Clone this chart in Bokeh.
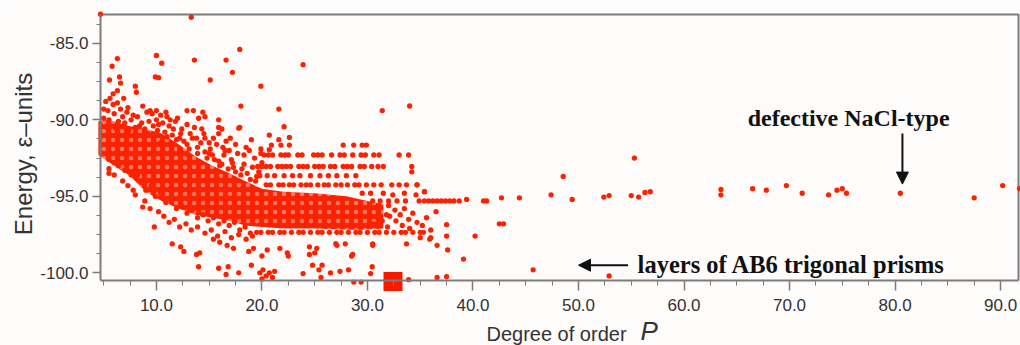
from math import pi
from bokeh.plotting import figure
from bokeh.models import (Range1d, SingleIntervalTicker, PrintfTickFormatter,
                          Label, Arrow, NormalHead)
from bokeh.embed import file_html
from bokeh.resources import INLINE

# ---------------- data ----------------
# isolated high-energy structures
outlier_x = [4.7, 13.3, 5.8, 6.3, 5.55, 6.5, 6.6, 6.3, 8.0, 8.1, 10.0, 10.5, 9.9, 10.2,
             13.6, 15.1, 16.6, 17.2, 17.9, 18.0, 17.8, 19.9, 21.6, 22.1, 23.9, 31.4, 34.0]
outlier_y = [-83.1, -83.3, -86.5, -86.0, -87.4, -87.2, -87.6, -88.1, -87.8, -88.2, -85.8,
             -86.3, -87.2, -87.25, -86.1, -87.4, -86.1, -86.9, -85.4, -89.1, -90.55, -87.8,
             -89.3, -90.45, -86.4, -89.4, -89.1]

# upper part of the main cloud (low P)
upper_x = [5.2, 5.6, 5.9, 6.3, 6.6, 5.4, 6.0, 6.8, 7.2, 5.0, 5.5, 6.4, 7.0, 7.6, 8.2, 8.6,
           9.1, 9.6, 10.0, 10.4, 11.0, 9.3, 10.2, 11.2, 11.8, 12.4, 12.9, 13.5, 14.4, 14.6,
           13.2, 13.8, 14.3, 15.0, 15.4, 15.9, 15.9, 15.9, 16.3, 16.9, 17.5, 17.9, 18.3,
           18.8, 19.3, 19.9, 17.1, 16.2, 15.3, 14.6, 13.9, 12.9, 12.2, 11.5, 10.8, 8.9, 8.0,
           7.4, 6.2, 5.3, 19.9, 20.7, 20.7, 21.6, 22.6]
upper_y = [-88.8, -88.6, -89.0, -88.9, -89.3, -89.4, -89.6, -89.8, -89.5, -89.9, -90.0,
           -90.1, -90.2, -90.0, -89.8, -90.2, -89.5, -89.6, -89.4, -89.7, -89.8, -90.1,
           -90.3, -90.4, -90.1, -90.6, -89.4, -89.4, -89.5, -89.8, -90.9, -91.2, -90.6,
           -91.5, -91.2, -90.0, -90.5, -90.9, -91.8, -92.0, -91.6, -90.5, -92.3, -92.0,
           -92.5, -92.2, -92.6, -92.9, -92.3, -92.1, -91.8, -91.6, -91.2, -91.0, -90.8,
           -90.6, -90.5, -90.7, -90.6, -90.5, -91.9, -91.95, -91.0, -91.3, -91.15]

# more structures between the dense band and the upper scatter (P = 5..20)
upper2_x = [9.2, 9.7, 10.1, 10.6, 10.9, 11.3, 11.6, 11.9, 12.3, 12.6, 12.9, 13.1, 13.4,
            13.6, 13.9, 14.2, 14.5, 14.8, 15.1, 15.5, 15.7, 16.0, 16.4, 16.6, 16.8, 17.2,
            17.5, 17.7, 18.0, 18.3, 18.6, 18.9, 19.1, 19.4, 19.7, 20.0, 12.0, 14.0, 16.2,
            17.0, 18.5, 19.0, 10.0, 8.4, 7.8, 7.3, 6.9, 5.9, 5.0, 8.7, 9.4, 11.0, 12.2,
            13.0, 14.1, 15.0, 15.9, 17.3, 18.1, 19.5, 10.4, 11.6, 14.6, 16.5]
upper2_y = [-90.9, -90.4, -90.7, -90.2, -89.5, -90.0, -90.6, -91.3, -90.9, -91.4, -90.3,
            -91.9, -91.2, -90.5, -92.2, -91.5, -90.9, -92.5, -91.9, -92.6, -91.6, -93.0,
            -92.3, -91.4, -93.2, -92.8, -93.4, -92.2, -93.6, -92.9, -93.5, -93.9, -93.1,
            -94.0, -93.4, -92.8, -89.9, -89.9, -90.6, -91.2, -91.8, -91.3, -90.0, -90.4,
            -89.7, -89.2, -88.6, -88.3, -89.3, -89.1, -89.4, -91.1, -91.9, -92.3, -92.8,
            -92.2, -92.7, -93.1, -93.2, -93.7, -91.5, -91.6, -91.2, -92.0]

# lower edge of the main cloud
edge_x = [5.0, 5.5, 6.0, 6.4, 7.0, 7.6, 8.2, 8.6, 9.0, 9.5, 9.9, 10.4, 10.9, 11.4, 11.9,
          12.4, 12.9, 13.4, 13.9, 14.4, 14.9, 15.4, 15.9, 16.4, 16.9, 17.4, 17.9, 18.4,
          18.9, 5.5, 5.5, 7.8, 8.7, 9.8, 6.0, 6.8, 7.3, 8.0, 8.9, 9.4, 10.2, 10.7, 11.2,
          11.7, 12.2, 12.8, 13.3, 13.9, 14.6, 15.2, 15.8, 16.5, 17.1, 17.8, 18.5, 19.1]
edge_y = [-92.2, -92.6, -92.8, -93.0, -93.3, -93.6, -93.6, -94.1, -94.6, -94.3, -95.0,
          -94.8, -95.4, -95.2, -95.8, -95.6, -96.1, -95.9, -96.4, -96.2, -96.6, -96.4,
          -96.8, -96.6, -96.9, -96.7, -97.2, -97.0, -97.4, -93.2, -93.5, -94.6, -95.7,
          -97.0, -93.6, -94.0, -94.3, -94.9, -95.3, -95.8, -96.0, -96.3, -96.7, -96.5,
          -97.0, -96.8, -97.2, -97.0, -97.4, -97.2, -97.6, -97.3, -97.7, -97.5, -97.8,
          -97.6]

# dense core of the cloud (outline of the solid region)
core_x = [4.5, 5.5, 7.4, 9.0, 10.5, 12.1, 13.7, 15.3, 16.9, 18.4, 20.0, 22.0, 25.0, 28.0,
          30.0, 31.5, 31.5, 29.0, 25.0, 22.0, 20.0, 18.4, 16.9, 15.3, 13.7, 12.1, 10.5,
          9.0, 7.4, 5.8, 4.5]
core_y = [-90.1, -90.0, -90.4, -90.6, -90.9, -91.6, -92.4, -93.0, -93.5, -94.0, -94.5,
          -94.7, -94.8, -95.0, -95.3, -95.5, -97.1, -97.2, -97.1, -97.1, -97.0, -96.9,
          -96.6, -96.4, -96.2, -95.8, -95.3, -94.7, -93.6, -92.9, -92.3]

# discrete energy levels populated by many structures
stripe_levels = [-91.65, -92.3, -93.05, -93.65, -94.25, -95.3, -97.35]
stripe_x = [
    [20.9, 21.8, 22.6, 27.7, 28.7, 29.5, 29.9],
    [20.2, 20.6, 21.0, 21.8, 22.2, 22.5, 23.4, 23.8, 24.9, 25.3, 25.7, 26.6, 27.4, 27.8,
     28.6, 29.4, 29.8, 30.6, 31.1, 33.0, 33.9],
    [19.6, 20.0, 20.4, 20.8, 21.5, 21.9, 22.3, 22.7, 23.5, 23.9, 24.3, 25.0, 25.4, 25.8,
     26.5, 26.9, 27.7, 28.1, 28.5, 29.3, 29.7, 30.4, 31.0, 31.5, 34.2],
    [19.8, 20.5, 21.2, 22.1, 22.9, 23.6, 24.6, 25.5, 26.3, 27.1, 28.0, 28.9],
    [20.4, 20.8, 21.6, 22.0, 22.6, 23.0, 23.7, 24.2, 24.6, 25.3, 25.9, 26.3, 27.0, 27.5,
     28.1, 28.8, 29.2, 29.9, 30.6, 31.3, 32.3, 33.0, 33.7, 34.7],
    [30.5, 31.2, 32.0, 32.8, 33.6, 34.9, 35.4, 35.8, 36.2, 36.6, 37.0, 37.4, 37.8, 38.2,
     38.7],
    [19.5, 19.9, 20.6, 21.0, 21.7, 22.1, 22.8, 23.5, 23.9, 24.6, 25.3, 25.7, 26.4, 27.1,
     27.5, 28.2, 28.9, 29.3, 30.0, 30.7, 31.1, 31.8, 32.5, 33.2, 33.6, 34.3, 35.0, 35.3],
]

# scattered structures around P = 29..37
mid_x = [32.0, 32.6, 33.1, 33.5, 33.9, 34.3, 34.7, 33.3, 32.7, 32.1, 31.9, 34.0, 35.2,
         35.6, 36.0, 31.5, 32.4, 33.5, 34.6, 35.4, 29.5, 30.3, 31.0, 31.8, 30.6, 31.4]
mid_y = [-95.6, -95.9, -96.2, -95.8, -96.5, -96.1, -96.7, -96.9, -96.6, -96.3, -97.0,
         -97.1, -96.9, -96.4, -97.2, -94.8, -94.9, -94.8, -94.9, -94.7, -94.8, -94.8,
         -95.9, -96.2, -96.8, -96.6]

# low-energy structures
low_x = [11.5, 12.3, 12.6, 13.8, 14.0, 14.1, 15.4, 16.0, 16.7, 17.3, 15.9, 16.8, 17.8,
         16.6, 18.75, 19.2, 19.0, 19.8, 20.1, 20.4, 20.7, 21.0, 21.2, 20.0, 20.0, 20.5,
         21.7, 22.4, 22.5, 23.9, 24.5, 24.5, 25.0, 24.8, 25.2, 25.4, 25.6, 25.7, 26.5,
         27.0, 27.4, 28.2, 28.5, 28.6, 28.7, 29.4, 30.3, 30.45, 30.5, 33.7, 27.9, 27.1,
         30.5]
low_y = [-98.1, -98.3, -98.6, -98.8, -99.6, -98.7, -97.8, -98.0, -98.2, -98.4, -99.7,
         -99.6, -100.0, -100.1, -98.6, -98.4, -99.5, -100.0, -99.8, -100.2, -100.0,
         -100.3, -99.9, -100.4, -98.9, -98.5, -98.4, -98.7, -98.9, -100.05, -98.3, -98.8,
         -98.7, -99.5, -98.4, -99.8, -100.3, -99.5, -100.0, -98.1, -99.9, -99.8, -98.9,
         -98.8, -100.6, -100.6, -100.05, -99.6, -98.1, -98.1, -98.1, -98.2, -98.2]

# high-P tail
tail_x = [35.4, 34.7, 34.2, 39.4, 41.0, 41.3, 42.7, 44.4, 47.4, 48.55, 49.4, 52.4, 52.9,
          55.0, 55.7, 56.3, 56.8, 55.3, 63.5, 63.5, 66.5, 67.8, 69.7, 71.2, 73.7, 74.5,
          75.0, 75.4, 80.5, 87.5, 90.2, 91.8, 36.5, 37.5, 37.5, 37.6, 36.0, 36.6, 35.0,
          35.9, 40.2, 42.5, 42.9, 39.1, 45.7, 52.9, 33.9, 36.6, 37.5]
tail_y = [-94.7, -94.25, -93.4, -95.2, -95.3, -95.3, -95.1, -95.1, -94.9, -93.7, -95.2,
          -95.05, -94.95, -94.95, -95.05, -94.75, -94.7, -92.5, -94.55, -94.9, -94.5,
          -94.6, -94.3, -94.8, -94.9, -94.6, -94.5, -94.8, -94.8, -95.1, -94.3, -94.5,
          -96.0, -96.85, -97.6, -98.5, -97.7, -98.2, -97.7, -97.8, -97.6, -96.8, -96.8,
          -99.1, -99.8, -100.2, -100.45, -100.3, -100.25]

# highlighted structure (layers of AB6 trigonal prisms)
special_x = [32.42]
special_y = [-100.565]

# axis extents and tick labels
X0, X1 = 4.7, 91.7
Y0, Y1 = -100.5, -83.12
x_tick_interval, y_tick_interval = 10, 5

# ---------------- figure ----------------
W, H = 1020, 345
FL, FR, FT, FB = 100, 1018, 14, 280          # frame edges in pixels
sx_px = (FR - FL) / (X1 - X0)
sy_px = (FB - FT) / (Y1 - Y0)
x_lo = X0 - FL / sx_px
x_hi = X1 + (W - FR) / sx_px
y_hi = Y1 + FT / sy_px
y_lo = Y0 - (H - FB) / sy_px


def px_x(px):
    return X0 + (px - FL) / sx_px


def px_y(py):
    return Y1 - (py - FT) / sy_px


RED = "#fa2200"
BG = "#fefbfb"
GREY = "#7c7c7c"
TXT = "#333333"

p = figure(width=W, height=H, x_range=Range1d(x_lo, x_hi), y_range=Range1d(y_lo, y_hi),
           output_backend="svg", toolbar_location=None, min_border=0,
           min_border_left=0, min_border_right=0, min_border_top=0, min_border_bottom=0,
           background_fill_color=BG, border_fill_color=BG)
p.grid.visible = False
p.outline_line_color = None

# top and right border of the plot box
p.line([X0, X1, X1], [Y1, Y1, Y0], line_color=GREY, line_width=2)

p.patch(core_x, core_y, fill_color=RED, line_color=None,
        hatch_pattern="dot", hatch_color=BG, hatch_alpha=0.4, hatch_scale=9,
        hatch_weight=1.5)

sx = [x for xs in stripe_x for x in xs]
sy = [lvl for lvl, xs in zip(stripe_levels, stripe_x) for _ in xs]
for xs, ys in [(outlier_x, outlier_y), (upper_x, upper_y), (upper2_x, upper2_y),
               (edge_x, edge_y), (sx, sy), (mid_x, mid_y), (low_x, low_y),
               (tail_x, tail_y)]:
    p.scatter(xs, ys, marker="circle", size=5.3, fill_color=RED, line_color=None)

p.scatter(special_x, special_y, marker="square", size=19, fill_color="#f51a00",
          line_color=None)

# axes (fixed on the plot box edges)
xa = p.xaxis[0]
xa.fixed_location = Y0
xa.bounds = (X0, X1)
xa.ticker = SingleIntervalTicker(interval=x_tick_interval, num_minor_ticks=4)
xa.formatter = PrintfTickFormatter(format="%.1f")
ya = p.yaxis[0]
ya.fixed_location = X0
ya.bounds = (Y0, Y1)
ya.ticker = SingleIntervalTicker(interval=y_tick_interval, num_minor_ticks=4)
ya.formatter = PrintfTickFormatter(format="%.1f")
for ax in (xa, ya):
    ax.axis_line_color = GREY
    ax.axis_line_width = 2
    ax.major_tick_line_color = GREY
    ax.minor_tick_line_color = GREY
    ax.major_tick_line_width = 1.5
    ax.major_tick_in = 0
    ax.minor_tick_in = 0
    ax.major_label_text_font = "Liberation Sans"
    ax.major_label_text_font_size = "17px"
    ax.major_label_text_color = TXT
xa.major_tick_out = 10
xa.minor_tick_out = 5
xa.major_label_standoff = 8
ya.major_tick_out = 8
ya.minor_tick_out = 4
ya.major_label_standoff = 4

# axis titles
p.add_layout(Label(x=px_x(556), y=px_y(333), text="Degree of order",
                   text_font="Liberation Sans", text_font_size="20px", text_color=TXT,
                   text_align="center", text_baseline="middle"))
p.add_layout(Label(x=px_x(640), y=px_y(330), text="P",
                   text_font="Liberation Sans", text_font_style="italic",
                   text_font_size="26px", text_color=TXT, text_align="left",
                   text_baseline="middle"))
p.add_layout(Label(x=px_x(23), y=px_y(153.5),
                   text="Energy, \u03b5\u2013units", angle=pi / 2,
                   text_font="Liberation Sans", text_font_size="24px", text_color=TXT,
                   text_align="center", text_baseline="middle"))

# annotations
p.add_layout(Label(x=75.6, y=-89.9, text="defective NaCl-type",
                   text_font="Liberation Serif", text_font_style="bold",
                   text_font_size="24px", text_color="#111111",
                   text_align="center", text_baseline="middle"))
p.add_layout(Arrow(x_start=80.7, y_start=-90.9, x_end=80.7, y_end=-94.2,
                   line_color="#111111", line_width=2,
                   end=NormalHead(size=12, fill_color="#111111", line_color="#111111")))
p.add_layout(Label(x=55.6, y=-99.47, text="layers of AB6 trigonal prisms",
                   text_font="Liberation Serif", text_font_style="bold",
                   text_font_size="24.5px", text_color="#111111",
                   text_align="left", text_baseline="middle"))
p.add_layout(Arrow(x_start=54.7, y_start=-99.5, x_end=50.0, y_end=-99.5,
                   line_color="#111111", line_width=2,
                   end=NormalHead(size=12, fill_color="#111111", line_color="#111111")))

open("out.html", "w").write(file_html(p, INLINE))
